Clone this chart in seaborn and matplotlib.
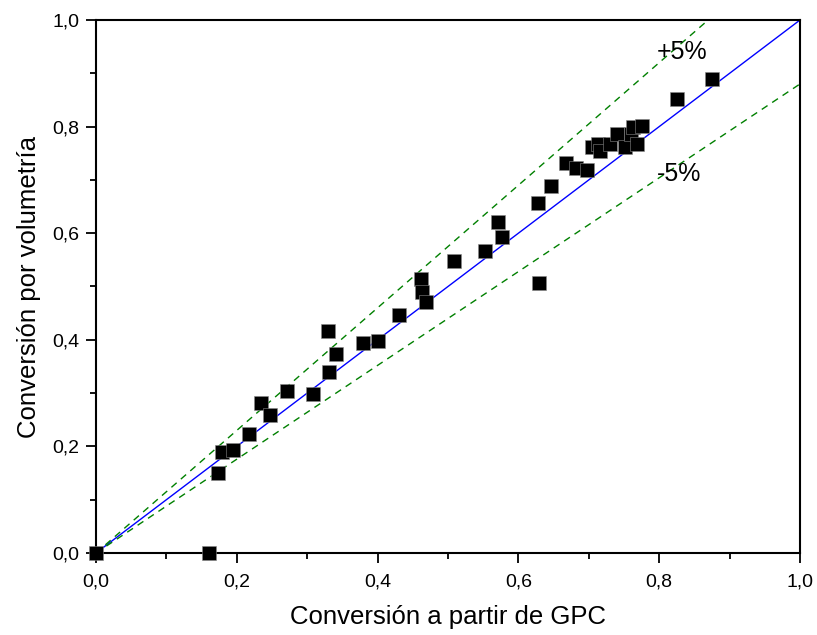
import matplotlib
matplotlib.use("Agg")
import matplotlib.pyplot as plt
import seaborn as sns
import numpy as np
import pandas as pd
from matplotlib.ticker import MultipleLocator, FuncFormatter

# Data
gpc = [0.000, 0.160, 0.174, 0.179, 0.195, 0.218, 0.234, 0.247, 0.272, 0.308,
       0.329, 0.331, 0.341, 0.379, 0.401, 0.431, 0.462, 0.463, 0.469, 0.508,
       0.552, 0.571, 0.576, 0.628, 0.629, 0.646, 0.667, 0.682, 0.698, 0.704,
       0.713, 0.716, 0.730, 0.740, 0.752, 0.760, 0.763, 0.769, 0.775, 0.825,
       0.875]
vol = [0.000, 0.000, 0.150, 0.189, 0.194, 0.223, 0.282, 0.259, 0.304, 0.298,
       0.417, 0.339, 0.373, 0.394, 0.398, 0.447, 0.514, 0.489, 0.470, 0.548,
       0.566, 0.621, 0.593, 0.657, 0.506, 0.689, 0.731, 0.723, 0.718, 0.762,
       0.768, 0.754, 0.768, 0.786, 0.762, 0.787, 0.800, 0.767, 0.801, 0.851,
       0.890]
ref_x = [0.0, 1.0]
upper_slope = 1.15
lower_slope = 0.88
labels = ["+5%", "-5%"]

plt.rcParams['font.family'] = ['Liberation Sans', 'DejaVu Sans']

fig = plt.figure(figsize=(8.17, 6.35), dpi=100)
ax = fig.add_axes([96/817, (635-553)/635, (800-96)/817, (553-20)/635])

df = pd.DataFrame({"gpc": gpc, "vol": vol})

# reference lines
sns.lineplot(x=ref_x, y=ref_x, color="#0000ff", linewidth=1.0, ax=ax, zorder=2)
ux = np.array(ref_x)
sns.lineplot(x=ux, y=ux * upper_slope, color="#008000", linewidth=1.0,
             linestyle=(0, (5, 4)), ax=ax, zorder=2)
sns.lineplot(x=ux, y=ux * lower_slope, color="#008000", linewidth=1.0,
             linestyle=(0, (5, 4)), ax=ax, zorder=2)

sns.scatterplot(data=df, x="gpc", y="vol", marker="s", s=88, color="black",
                edgecolor="#888888", linewidth=0.4, ax=ax, zorder=3, clip_on=False)

ax.set_xlim(0, 1)
ax.set_ylim(0, 1)
ax.xaxis.set_major_locator(MultipleLocator(0.2))
ax.xaxis.set_minor_locator(MultipleLocator(0.1))
ax.yaxis.set_major_locator(MultipleLocator(0.2))
ax.yaxis.set_minor_locator(MultipleLocator(0.1))
fmt = FuncFormatter(lambda v, p: f"{v:.1f}".replace(".", ","))
ax.xaxis.set_major_formatter(fmt)
ax.yaxis.set_major_formatter(fmt)
ax.tick_params(which="major", direction="out", length=7, width=1.3, labelsize=14, pad=5)
ax.tick_params(axis="x", which="major", pad=8)
ax.tick_params(which="minor", direction="out", length=4.5, width=1.3)
for sp in ax.spines.values():
    sp.set_linewidth(1.5)
    sp.set_color("black")

ax.set_xlabel("Conversión a partir de GPC", fontsize=18.5, labelpad=10)
ax.set_ylabel("Conversión por volumetría", fontsize=18.5, labelpad=8)

ax.text(0.797, 0.94, labels[0], fontsize=18, ha="left", va="center")
ax.text(0.797, 0.712, labels[1], fontsize=18, ha="left", va="center")

fig.savefig("out.png", dpi=100)
